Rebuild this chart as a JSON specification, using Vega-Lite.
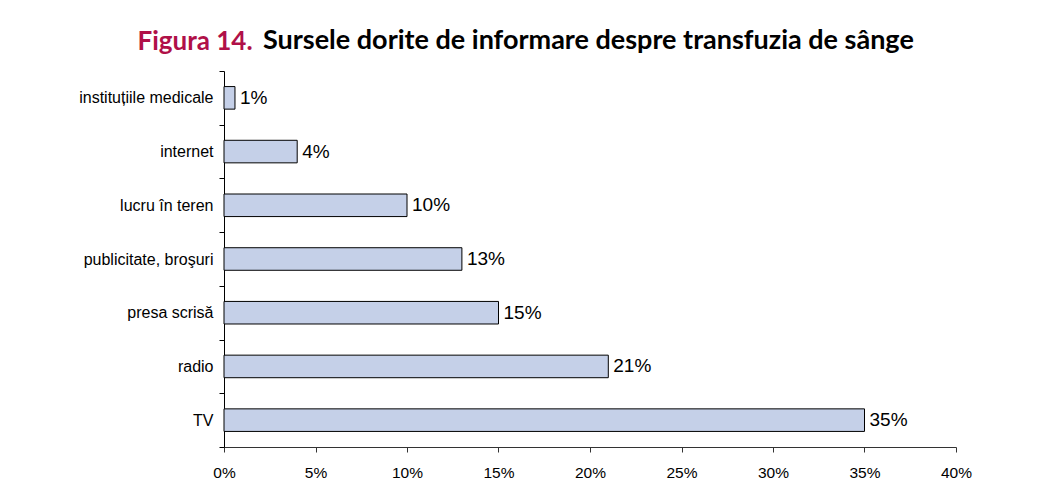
{
  "$schema": "https://vega.github.io/schema/vega-lite/v6.json",
  "width": 732,
  "height": 376,
  "autosize": {"type": "none"},
  "padding": {"left": 224, "top": 71, "right": 85, "bottom": 57},
  "background": "white",
  "config": {"view": {"stroke": null}, "axisY": {"ticks": true}, "axisBand": {"ticks": true}},
  "title": {
    "text": "Sursele dorite de informare despre transfuzia de sânge",
    "anchor": "start",
    "frame": "group",
    "dx": 39,
    "offset": 0,
    "dy": 48,
    "baseline": "alphabetic",
    "font": "Lato",
    "fontSize": 27,
    "fontWeight": "bold",
    "color": "black"
  },
  "data": {
    "values": [
      {"source": "instituțiile medicale", "value": 0.006, "label": "1%"},
      {"source": "internet", "value": 0.04, "label": "4%"},
      {"source": "lucru în teren", "value": 0.10, "label": "10%"},
      {"source": "publicitate, broşuri", "value": 0.13, "label": "13%"},
      {"source": "presa scrisă", "value": 0.15, "label": "15%"},
      {"source": "radio", "value": 0.21, "label": "21%"},
      {"source": "TV", "value": 0.35, "label": "35%"}
    ]
  },
  "encoding": {
    "y": {
      "field": "source",
      "type": "nominal",
      "sort": null,
      "scale": {"paddingInner": 0, "paddingOuter": 0},
      "axis": {
        "title": "Figura 14.",
        "titleAngle": 0,
        "titleX": -87,
        "titleY": -22,
        "titleAlign": "left",
        "titleBaseline": "alphabetic",
        "titleFont": "Lato",
        "titleFontSize": 26,
        "titleFontWeight": "bold",
        "titleColor": "#B01048",
        "ticks": true,
        "tickBand": "extent",
        "tickSize": 5,
        "tickWidth": 1,
        "tickColor": "black",
        "domainColor": "black",
        "labelPadding": 6,
        "labelFont": "Liberation Sans",
        "labelFontSize": 16,
        "labelColor": "black"
      }
    },
    "x": {
      "field": "value",
      "type": "quantitative",
      "scale": {"domain": [0, 0.4]},
      "axis": {
        "title": null,
        "grid": false,
        "format": ".0%",
        "values": [0, 0.05, 0.1, 0.15, 0.2, 0.25, 0.3, 0.35, 0.4],
        "labelFlush": false,
        "tickSize": 5,
        "tickColor": "#333333",
        "domainColor": "#333333",
        "labelPadding": 13,
        "labelFont": "Liberation Sans",
        "labelFontSize": 15.5,
        "labelColor": "black"
      }
    }
  },
  "layer": [
    {"mark": {"type": "bar", "height": {"band": 0.42}, "fill": "#C5D0E8", "stroke": "black", "strokeWidth": 1}},
    {
      "mark": {"type": "text", "align": "left", "baseline": "middle", "dx": 5, "font": "Liberation Sans", "fontSize": 19, "color": "black"},
      "encoding": {"text": {"field": "label"}}
    }
  ]
}
